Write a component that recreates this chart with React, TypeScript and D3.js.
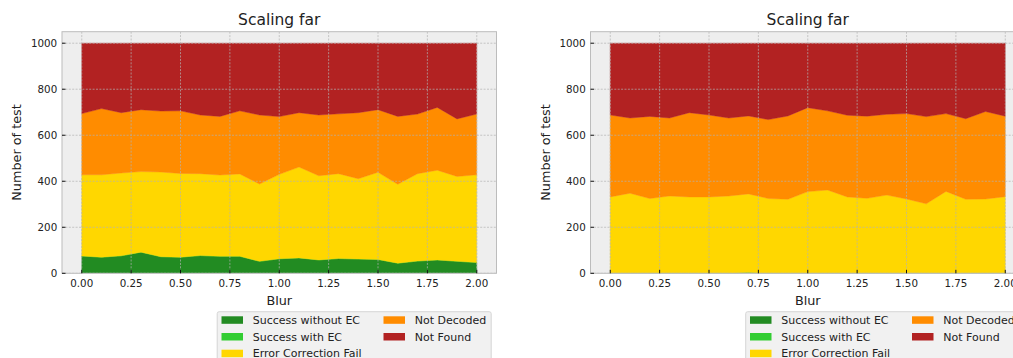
import React from "react";
import * as d3 from "d3";

// Blur levels sampled in the test run
const blur = [0.0, 0.1, 0.2, 0.3, 0.4, 0.5, 0.6, 0.7, 0.8, 0.9, 1.0, 1.1, 1.2, 1.3, 1.4, 1.5, 1.6, 1.7, 1.8, 1.9, 2.0];

// Outcome counts per blur level (1000 tests each), first panel
const leftSuccessNoEC = [75, 70, 76, 92, 72, 70, 77, 74, 74, 52, 63, 67, 58, 64, 62, 60, 44, 53, 58, 52, 47];
const leftSuccessEC = [0, 0, 0, 0, 0, 0, 0, 0, 0, 0, 0, 0, 0, 0, 0, 0, 0, 0, 0, 0, 0];
const leftEcFail = [353, 358, 360, 350, 368, 364, 356, 353, 358, 336, 367, 395, 366, 369, 349, 379, 343, 380, 390, 369, 381];
const leftNotDecoded = [266, 288, 262, 269, 265, 272, 255, 255, 274, 300, 251, 236, 264, 260, 287, 272, 295, 259, 273, 250, 264];
const leftNotFound = [306, 284, 302, 289, 295, 294, 312, 318, 294, 312, 319, 302, 312, 307, 302, 289, 318, 308, 279, 329, 308];

// Outcome counts per blur level, second panel
const rightSuccessNoEC = [0, 0, 0, 0, 0, 0, 0, 3, 0, 0, 0, 0, 0, 0, 0, 0, 0, 0, 0, 0, 0];
const rightSuccessEC = [0, 0, 0, 0, 0, 0, 0, 0, 0, 0, 0, 0, 0, 0, 0, 0, 0, 0, 0, 0, 0];
const rightEcFail = [332, 348, 325, 336, 332, 332, 336, 342, 325, 322, 355, 362, 332, 326, 340, 323, 302, 356, 322, 323, 333];
const rightNotDecoded = [356, 327, 357, 339, 366, 356, 339, 339, 343, 362, 365, 344, 355, 357, 351, 371, 379, 338, 350, 380, 350];
const rightNotFound = [312, 325, 318, 325, 302, 312, 325, 316, 332, 316, 280, 294, 313, 317, 309, 306, 319, 306, 328, 297, 317];

const seriesNames = ["Success without EC", "Success with EC", "Error Correction Fail", "Not Decoded", "Not Found"];
const seriesColors = ["#228B22", "#32CD32", "#FFD700", "#FF8C00", "#B22222"];

const xTicks = [0, 0.25, 0.5, 0.75, 1.0, 1.25, 1.5, 1.75, 2.0];
const yTicks = [0, 200, 400, 600, 800, 1000];

const titleText = "Scaling far";
const xLabel = "Blur";
const yLabel = "Number of test";

const FONT = "DejaVu Sans, sans-serif";
const W = 1013;
const H = 358;

type PanelProps = { left: number; series: number[][] };

function Panel({ left, series }: PanelProps) {
  const top = 31.7;
  const bottom = 273.3;
  const width = 434.5;
  const right = left + width;

  const x = d3.scaleLinear().domain([-0.1, 2.1]).range([left, right]);
  const y = d3.scaleLinear().domain([0, 1050]).range([bottom, top]);

  const rows = blur.map((b, i) => {
    const r: Record<string, number> = { blur: b };
    seriesNames.forEach((n, k) => (r[n] = series[k][i]));
    return r;
  });
  const stacked = d3.stack<Record<string, number>>().keys(seriesNames)(rows);
  const area = d3
    .area<d3.SeriesPoint<Record<string, number>>>()
    .x((d) => x(d.data.blur))
    .y0((d) => y(d[0]))
    .y1((d) => y(d[1]));

  const cx = (left + right) / 2;
  const clipId = `clip-${Math.round(left)}`;

  // legend placement: upper right corner hangs below the axes
  const lgRight = right - 5.3;
  const lgLeft = lgRight - 274;
  const lgTop = 311.7;
  const rowH = 16.7;
  const colOffset = 162;

  return (
    <g>
      <defs>
        <clipPath id={clipId}>
          <rect x={left} y={top} width={width} height={bottom - top} />
        </clipPath>
      </defs>
      <rect x={left} y={top} width={width} height={bottom - top} fill="#eeeeee" />
      <g clipPath={`url(#${clipId})`}>
        {stacked.map((s, k) => (
          <path key={k} d={area(s) || ""} fill={seriesColors[k]} stroke={seriesColors[k]} strokeWidth={0.4} />
        ))}
        {xTicks.map((t) => (
          <line key={"gx" + t} x1={x(t)} x2={x(t)} y1={top} y2={bottom} stroke="#b2b2b2" strokeWidth={0.7} strokeDasharray="2,1.4" />
        ))}
        {yTicks.map((t) => (
          <line key={"gy" + t} x1={left} x2={right} y1={y(t)} y2={y(t)} stroke="#b2b2b2" strokeWidth={0.7} strokeDasharray="2,1.4" />
        ))}
      </g>
      <rect x={left} y={top} width={width} height={bottom - top} fill="none" stroke="#bcbcbc" strokeWidth={1} />
      {xTicks.map((t) => (
        <g key={"xt" + t}>
          <line x1={x(t)} x2={x(t)} y1={bottom} y2={bottom - 3.5} stroke="#000" strokeWidth={0.9} />
          <text x={x(t)} y={287} textAnchor="middle" fontSize={10.3} fontFamily={FONT} fill="#222">
            {t.toFixed(2)}
          </text>
        </g>
      ))}
      {yTicks.map((t) => (
        <g key={"yt" + t}>
          <line x1={left} x2={left + 3.5} y1={y(t)} y2={y(t)} stroke="#000" strokeWidth={0.9} />
          <text x={left - 4.8} y={y(t)} dy="0.35em" textAnchor="end" fontSize={10.3} fontFamily={FONT} fill="#222">
            {t}
          </text>
        </g>
      ))}
      <text x={cx} y={25} textAnchor="middle" fontSize={15.5} fontFamily={FONT} fill="#222">
        {titleText}
      </text>
      <text x={cx} y={304.5} textAnchor="middle" fontSize={12.8} fontFamily={FONT} fill="#222">
        {xLabel}
      </text>
      <text
        transform={`translate(${left - 45},${(top + bottom) / 2}) rotate(-90)`}
        textAnchor="middle"
        dy="0.35em"
        fontSize={12.8}
        fontFamily={FONT}
        fill="#222"
      >
        {yLabel}
      </text>
      <rect x={lgLeft} y={lgTop} width={274} height={60} rx={2} fill="#f1f1f1" stroke="#d6d6d6" strokeWidth={1} />
      {seriesNames.map((n, k) => {
        const col = k < 3 ? 0 : 1;
        const row = k < 3 ? k : k - 3;
        const px = lgLeft + 4.3 + col * colOffset;
        const py = lgTop + 8.3 + row * rowH;
        return (
          <g key={"lg" + k}>
            <rect x={px} y={py - 3.7} width={21.5} height={7.5} fill={seriesColors[k]} />
            <text x={px + 31.3} y={py} dy="0.35em" fontSize={11} fontFamily={FONT} fill="#222">
              {n}
            </text>
          </g>
        );
      })}
    </g>
  );
}

export default function App() {
  const leftSeries = [leftSuccessNoEC, leftSuccessEC, leftEcFail, leftNotDecoded, leftNotFound];
  const rightSeries = [rightSuccessNoEC, rightSuccessEC, rightEcFail, rightNotDecoded, rightNotFound];
  return (
    <svg
      width={W}
      height={H}
      viewBox={`0 0 ${W} ${H}`}
      style={{ position: "absolute", left: 0, top: 0, background: "#fff", overflow: "hidden" }}
    >
      <rect x={0} y={0} width={W} height={H} fill="#fff" />
      <Panel left={62} series={leftSeries} />
      <Panel left={590.5} series={rightSeries} />
    </svg>
  );
}
